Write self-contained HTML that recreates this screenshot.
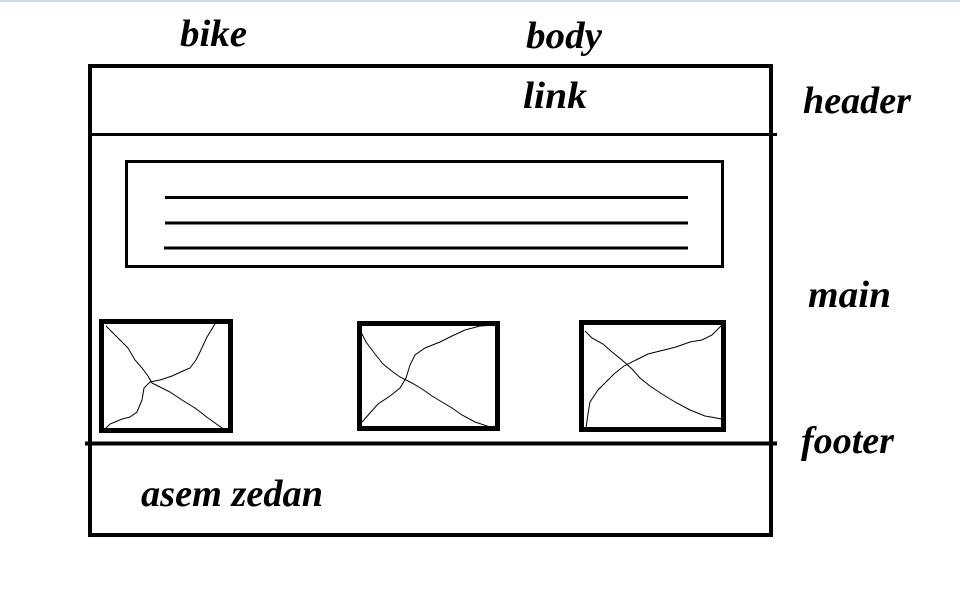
<!DOCTYPE html>
<html><head><meta charset="utf-8"><style>
html,body{margin:0;padding:0;background:#fff;width:960px;height:610px;overflow:hidden}
text{font-family:"Liberation Serif",serif;font-weight:bold;font-style:italic;font-size:38px;fill:#000}
</style></head><body>
<svg width="960" height="610" viewBox="0 0 960 610" xmlns="http://www.w3.org/2000/svg">
<rect x="0" y="0" width="960" height="2" fill="#cdd9e8"/>
<rect x="90" y="66" width="681" height="469" fill="none" stroke="#000" stroke-width="4"/>
<line x1="88" y1="134.5" x2="777" y2="134.5" stroke="#000" stroke-width="3"/>
<line x1="85" y1="443.5" x2="777" y2="443.5" stroke="#000" stroke-width="4"/>
<rect x="126.5" y="161.5" width="596" height="105" fill="none" stroke="#000" stroke-width="3"/>
<line x1="165" y1="197.5" x2="688" y2="197.5" stroke="#000" stroke-width="3"/>
<line x1="165" y1="223" x2="688" y2="223" stroke="#000" stroke-width="3"/>
<line x1="164" y1="248" x2="688" y2="248" stroke="#000" stroke-width="3"/>
<rect x="101.5" y="321.5" width="129" height="109" fill="none" stroke="#000" stroke-width="5"/>
<rect x="359.5" y="323.5" width="138" height="105" fill="none" stroke="#000" stroke-width="5"/>
<rect x="581.5" y="322.5" width="142" height="107" fill="none" stroke="#000" stroke-width="5"/>
<g fill="none" stroke="#000" stroke-width="1">
<polyline points="106,326 118,338 128,348 135,360 142,368 148,376 152,383 158,386 170,392 182,400 195,408 208,418 222,428 229,430"/>
<polyline points="104,430 110,424 122,419 130,417 137,412 142,400 144,388 150,382 160,380 172,376 183,371 190,368 196,360 200,352 207,337 215,324"/>
<polyline points="361,332 366,342 375,354 383,364 393,372 400,377 412,383 422,389 432,396 442,402 452,408 462,415 475,422 490,427 497,428"/>
<polyline points="362,422 370,413 378,404 390,396 400,388 406,378 410,365 415,355 425,348 440,342 452,336 465,330 480,326 497,325"/>
<polyline points="585,331 592,338 603,344 612,352 622,360 632,369 640,378 650,386 662,394 675,402 690,410 705,416 722,419"/>
<polyline points="586,428 588,414 590,402 598,390 606,382 614,374 624,366 636,360 648,354 664,350 676,347 690,342 702,340 712,335 722,325"/>
</g>
<text x="180" y="46" textLength="67" lengthAdjust="spacingAndGlyphs">bike</text>
<text x="526" y="48" textLength="76" lengthAdjust="spacingAndGlyphs">body</text>
<text x="523" y="108" textLength="64" lengthAdjust="spacingAndGlyphs">link</text>
<text x="803" y="113" textLength="108" lengthAdjust="spacingAndGlyphs">header</text>
<text x="808" y="307" textLength="83" lengthAdjust="spacingAndGlyphs">main</text>
<text x="801" y="453" textLength="93" lengthAdjust="spacingAndGlyphs">footer</text>
<text x="141" y="506" textLength="182" lengthAdjust="spacingAndGlyphs">asem zedan</text>
</svg>
</body></html>
